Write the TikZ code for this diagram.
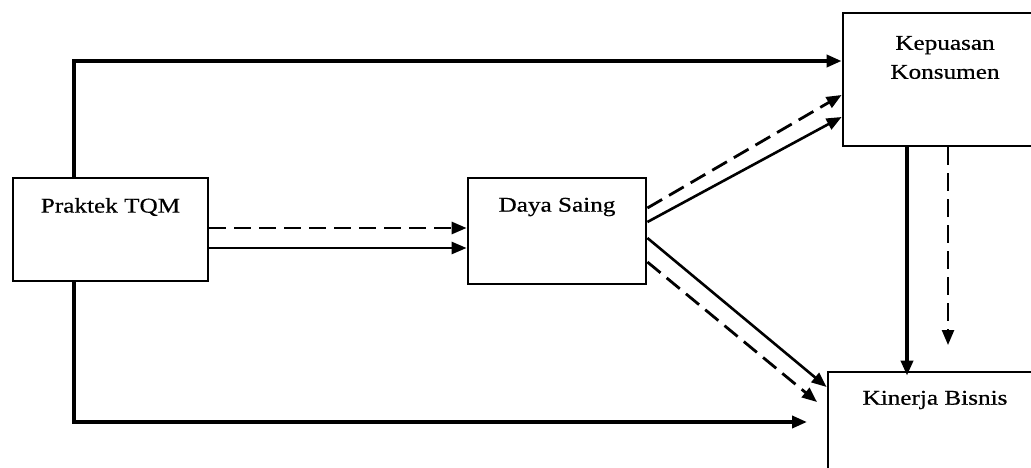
\documentclass[tikz,border=0pt]{standalone}
\usepackage{fontspec}
\setmainfont{Liberation Serif}[FakeStretch=1.2,FakeBold=0.6]
\usetikzlibrary{arrows.meta}
\begin{document}
\begin{tikzpicture}[x=1pt,y=-1pt,
  box/.style={draw, line width=2.8pt, rectangle, inner sep=0pt},
  lbl/.style={font=\fontsize{21}{29}\selectfont, align=center},
  tip/.style={-{Triangle[length=15pt,width=12pt]}},
  conn/.style={tip, line width=2.6pt},
  thickconn/.style={tip, line width=3.6pt},
  dashconn/.style={tip, line width=2.8pt, dash pattern=on 17pt off 8pt},
  vdash/.style={tip, line width=2.4pt, dash pattern=on 18pt off 8pt}]
\useasboundingbox (0,0) rectangle (1031,468);
\fill[white] (0,0) rectangle (1031,468);
% boxes
\node[box, minimum width=195pt, minimum height=103pt] (tqm) at (110.5,229.5) {};
\node[lbl] (tqmt) at (110.5,207) {Praktek TQM};
\node[box, minimum width=178pt, minimum height=106pt] (ds) at (557,231) {};
\node[lbl] (dst) at (557,207) {Daya Saing};
\node[box, minimum width=204pt, minimum height=133pt] (kep) at (945,79.5) {};
\node[lbl] (kept) at (945,57.5) {Kepuasan\\Konsumen};
\node[box, minimum width=214pt, minimum height=110pt] (kin) at (935,427) {};
\node[lbl] (kint) at (935,400) {Kinerja Bisnis};
% helper coordinates
\coordinate (c1) at (74,61);
\coordinate (c2) at (807,422);
\coordinate (c3) at (817,402);
\coordinate (c4) at (948,345);
% TQM -> Kepuasan (top route)
\draw[thickconn] (tqm.north -| c1) |- (kep.west |- c1);
% TQM -> Kinerja (bottom route)
\draw[thickconn] (tqm.south -| c1) |- (c2);
% TQM -> Daya Saing
\draw[dashconn] (tqm.east |- 0,228) -- (ds.west |- 0,228);
\draw[conn] (tqm.east |- 0,248) -- (ds.west |- 0,248);
% Daya Saing -> Kepuasan
\draw[dashconn] (ds.east |- 0,208) -- (kep.west |- 0,95);
\draw[conn] (ds.east |- 0,222) -- (kep.west |- 0,117);
% Daya Saing -> Kinerja
\draw[conn] (ds.east |- 0,238) -- (kin.west |- 0,387);
\draw[dashconn] (ds.east |- 0,262) -- (c3);
% Kepuasan -> Kinerja
\draw[thickconn] (kep.south -| 907,0) -- ([yshift=-5pt]kin.north -| 907,0);
\draw[vdash] (kep.south -| c4) -- (c4);
\end{tikzpicture}
\end{document}
